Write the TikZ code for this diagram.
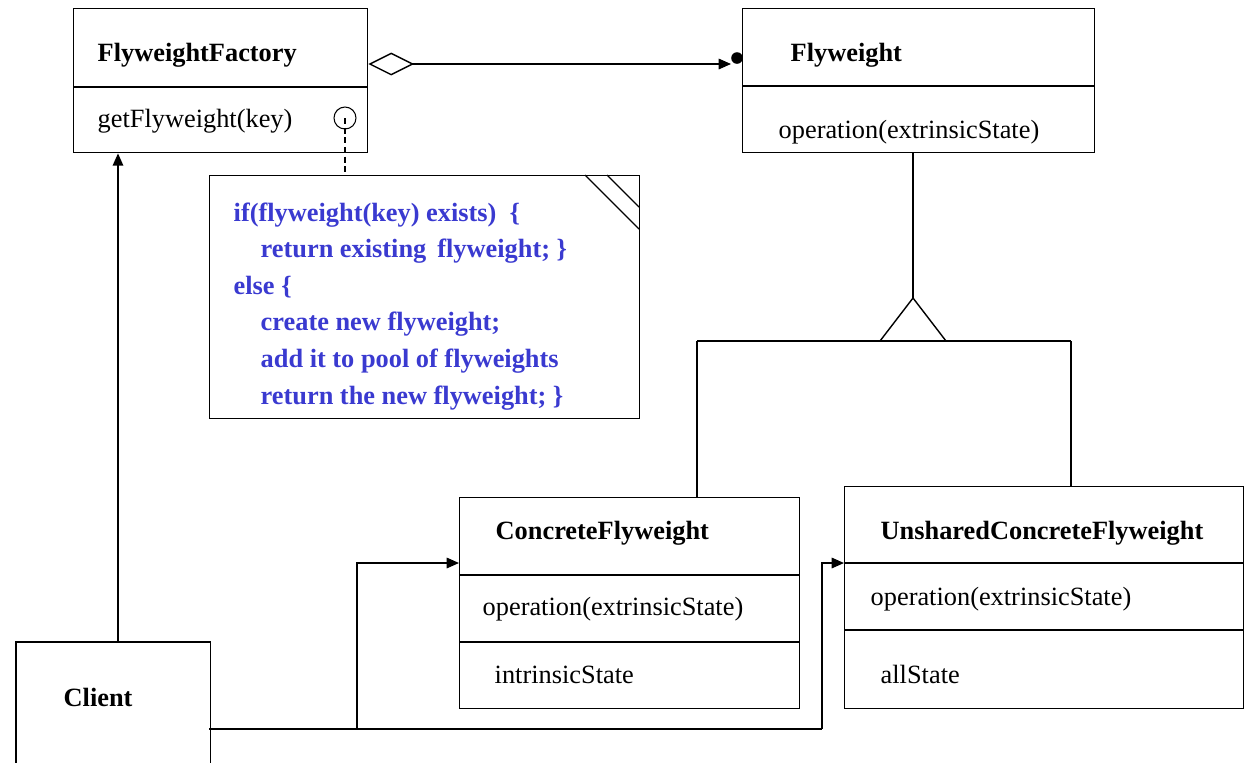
\documentclass[tikz,border=0pt]{standalone}
\usepackage{fontspec}
\setmainfont{Liberation Serif}
\usetikzlibrary{arrows.meta,calc}
\definecolor{notecol}{RGB}{58,58,208}
\begin{document}
\begin{tikzpicture}[x=0.02cm,y=-0.02cm,
  line width=0.8pt,
  box/.style={draw,rectangle,anchor=north west,inner sep=0pt},
  lbl/.style={anchor=base west,inner sep=0pt,font=\fontsize{15}{18}\selectfont},
  blbl/.style={lbl,font=\fontsize{15}{18}\selectfont\bfseries},
  notetxt/.style={lbl,font=\fontsize{15}{18}\selectfont\bfseries,text=notecol},
  tip/.style={-{Triangle[length=7pt,width=6pt]}}
]
\useasboundingbox (0,0) rectangle (1250,762);

% class boxes
\node[box,minimum width=5.88cm,minimum height=2.88cm] (fac) at (73,8) {};
\node[box,minimum width=7.04cm,minimum height=2.88cm] (fw) at (742,8) {};
\node[box,minimum width=6.8cm,minimum height=4.22cm] (cfw) at (459,497) {};
\node[box,minimum width=7.98cm,minimum height=4.44cm] (ufw) at (844,486) {};
\node[rectangle,anchor=north west,inner sep=0pt,minimum width=3.86cm,minimum height=2.4cm] (cli) at (16,642) {};
\draw (cli.south west) -- (cli.north west) -- (cli.north east) -- (cli.south east);

% compartments
\draw (73,87) -- (367,87);
\draw (742,86) -- (1094,86);
\draw (459,575) -- (799,575);
\draw (459,642) -- (799,642);
\draw (844,563) -- (1243,563);
\draw (844,630) -- (1243,630);

% class texts
\node[blbl] (tfac) at (97,61) {FlyweightFactory};
\node[lbl] (tget) at (97,127) {getFlyweight(key)};
\node[blbl] (tfw) at (790,61) {Flyweight};
\node[lbl] (top1) at (778,138) {operation(extrinsicState)};
\node[blbl] (tcfw) at (495,539) {ConcreteFlyweight};
\node[lbl] (top2) at (482,615) {operation(extrinsicState)};
\node[lbl] (tint) at (494,683) {intrinsicState};
\node[blbl] (tufw) at (880,539) {UnsharedConcreteFlyweight};
\node[lbl] (top3) at (870,605) {operation(extrinsicState)};
\node[lbl] (tall) at (880,683) {allState};
\node[blbl] (tcli) at (63,706) {Client};

% note with folded corner marks
\node[box,minimum width=8.6cm,minimum height=4.86cm] (note) at (209,175) {};
\draw (585,175) -- (639,229);
\draw (607,175) -- (639,207);
\node[notetxt] (n1) at (233,221) {if(flyweight(key) exists)\ \ \{};
\node[notetxt] (n2) at (260,257) {return existing\ \,flyweight; \}};
\node[notetxt] (n3) at (233,294) {else \{};
\node[notetxt] (n4) at (260,330) {create new flyweight;};
\node[notetxt] (n5) at (260,367) {add it to pool of flyweights};
\node[notetxt] (n6) at (260,404) {return the new flyweight; \}};

% note anchor on getFlyweight
\node[draw,circle,inner sep=0pt,minimum size=22*0.02cm,line width=0.6pt] (anc) at (345,118) {};
\draw[dash pattern=on 3.5pt off 2pt,line width=0.7pt] (anc.center) -- (anc.center |- note.north);

% aggregation FlyweightFactory <>--> Flyweight
\coordinate (aggA) at ($(fac.north east)+(0,56)$);
\coordinate (aggB) at ($(fw.north west)+(-11,56)$);
\draw[{Diamond[open,length=26pt,width=13pt]}-{Triangle[length=7pt,width=6pt]}] (aggA) -- (aggB);
\fill ($(fw.north west)+(-5,50)$) circle[radius=3.3pt];

% generalisation
\coordinate (apex) at (913,298);
\draw (fw.south -| apex) -- (apex);
\draw (apex) -- (880,341) -- (946,341) -- cycle;
\coordinate (busL) at (697,341);
\coordinate (busR) at (1071,341);
\draw (busL) -- (busR);
\draw (busL) -- (busL |- cfw.north);
\draw (busR) -- (busR |- ufw.north);

% client associations
\coordinate (cliup) at (118,642);
\draw[tip] (cliup) -- (cliup |- fac.south);
\coordinate (cout) at (209,729);
\coordinate (j1) at (357,729);
\coordinate (j2) at (822,729);
\draw (cout) -- (j2);
\draw[tip] (j1) -- (357,563) -- (cfw.west |- 0,563);
\draw[tip] (j2) -- (822,563) -- (ufw.west |- 0,563);
\end{tikzpicture}
\end{document}
